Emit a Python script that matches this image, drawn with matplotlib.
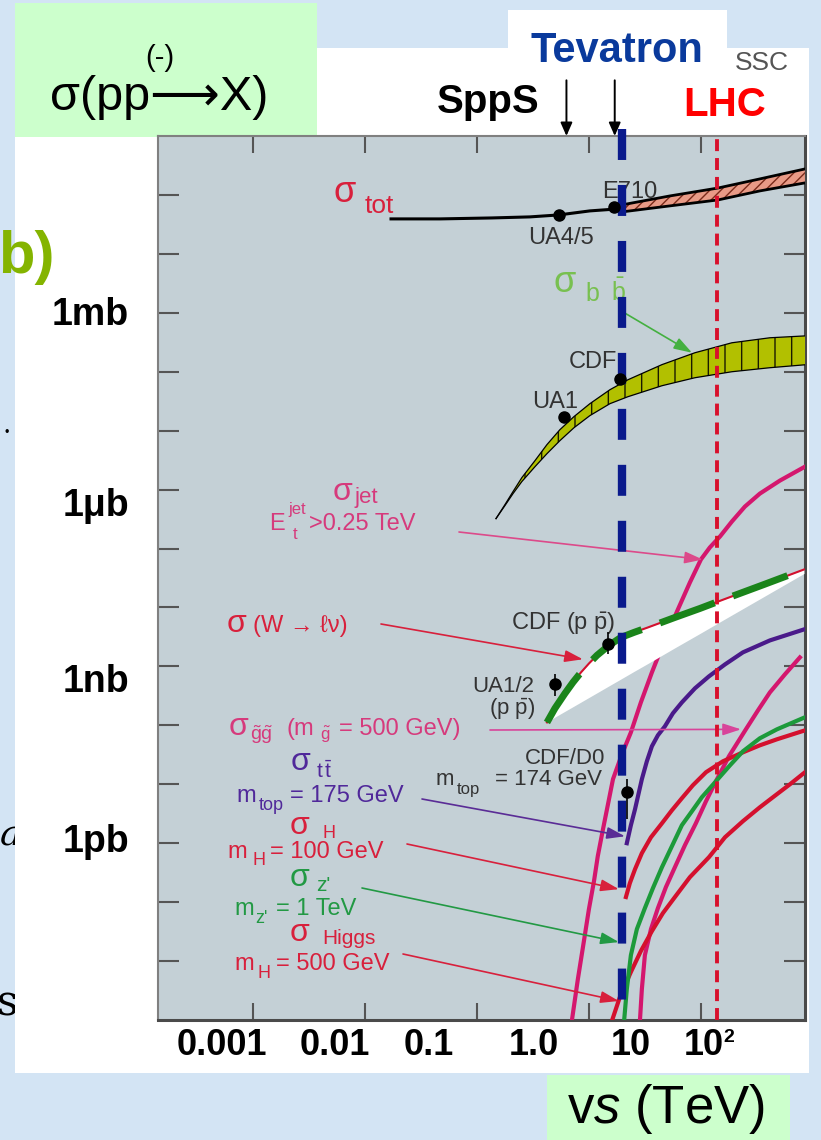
import matplotlib.pyplot as plt
from matplotlib.patches import Rectangle

plt.rcParams["font.family"] = ["Liberation Sans", "DejaVu Sans"]
plt.rcParams["mathtext.fontset"] = "custom"
plt.rcParams["mathtext.rm"] = "Liberation Sans"
plt.rcParams["mathtext.it"] = "Liberation Sans:italic"
plt.rcParams["mathtext.bf"] = "Liberation Sans:bold"
plt.rcParams["lines.scale_dashes"] = False
plt.rcParams["hatch.linewidth"] = 1.0

W, H = 821, 1140

# collider energies, sqrt(s) in TeV
spps, tev_run1, tevatron, lhc = 0.63, 1.7, 1.96, 14.0

# cross sections: sqrt(s) in TeV, sigma in nb
tot_x = [0.0171, 0.0468, 0.136, 0.297, 0.540, 1.02, 1.71, 1.97]
tot_y = [3.92e7, 3.92e7, 4.07e7, 4.24e7, 4.58e7, 5.36e7, 5.75e7, 5.9e7]
totband_x = [1.97, 5.29, 14.2, 33.6, 84.9]
totband_hi = [6.78e7, 9.62e7, 1.31e8, 1.87e8, 2.76e8]
totband_lo = [5.15e7, 6.52e7, 8.22e7, 1.17e8, 1.60e8]

bb_x = [0.148, 0.178, 0.210, 0.252, 0.330, 0.422, 0.551, 0.735, 1.02, 1.54,
        2.23, 4.49, 8.84, 18.9, 41.3, 88.3]
bb_hi = [322, 557, 925, 1600, 3100, 5800, 1.04e4, 1.73e4, 2.87e4, 4.95e4,
         7.31e4, 1.32e5, 2.10e5, 3.10e5, 3.77e5, 4.07e5]
bb_lo = [322, 536, 855, 1370, 2450, 4070, 6780, 1.12e4, 1.80e4, 2.87e4,
         3.77e4, 5.79e4, 7.91e4, 1.0e5, 1.17e5, 1.32e5]

jet_x = [0.70, 0.797, 0.902, 1.0, 1.11, 1.20, 1.33, 1.48, 1.64, 1.97, 2.37, 2.91,
         3.65, 4.77, 6.23, 7.97, 10.0, 12.0, 14.8, 18.9, 24.7, 33.6, 50.7, 84.9]
jet_y = [9e-7, 4.95e-6, 2.18e-5, 7.6e-5, 2.27e-4, 6.03e-4, 1.66e-3, 4.58e-3,
         1.22e-2, 3.22e-2, 7.6e-2, 0.245, 0.791, 2.87, 9.25, 26.5, 65.2, 104,
         160, 287, 515, 855, 1420, 2450]

w_x = [0.422, 0.497, 0.611, 0.720, 0.849, 1.0, 1.18, 1.51, 1.93, 2.52, 3.36,
       5.86, 9.80, 16.0, 36.5, 83.2]
w_hi = [0.112, 0.194, 0.348, 0.536, 0.791, 1.12, 1.54, 2.27, 3.10, 3.77, 4.58,
        6.77, 9.62, 13.7, 24.5, 44.1]
w_lo = [0.112, 0.138, 0.173, 0.207, 0.248, 0.297, 0.356, 0.467, 0.611, 0.820,
        1.12, 2.07, 3.62, 6.21, 15.3, 37.7]

gg_x = [2.85, 2.97, 3.16, 3.58, 4.13, 4.87, 5.86, 7.20, 9.02, 11.1, 13.6, 17.8,
        25.2, 32.3, 41.3, 56.2, 76.5]
gg_y = [9.25e-7, 3.35e-6, 1.26e-5, 3.48e-5, 7.91e-5, 1.80e-4, 3.92e-4, 9.25e-4,
        2.18e-3, 5.15e-3, 1.12e-2, 2.99e-2, 8.55e-2, 0.179, 0.362, 0.731, 1.42]

tt_x = [2.18, 2.37, 2.58, 2.97, 3.29, 3.65, 4.13, 4.77, 5.62, 6.76, 8.84, 11.8,
        16.4, 23.7, 41.3, 83.2]
tt_y = [1.0e-3, 2.02e-3, 3.77e-3, 1.22e-2, 2.45e-2, 4.41e-2, 6.78e-2, 9.62e-2,
        0.160, 0.245, 0.424, 0.678, 1.08, 1.73, 2.76, 4.24]

h100_x = [2.14, 2.32, 2.58, 2.97, 3.58, 4.49, 5.51, 6.76, 8.48, 11.1, 15.7, 23.7,
          33.6, 47.7, 84.9]
h100_y = [1.22e-4, 2.10e-4, 3.62e-4, 6.78e-4, 1.26e-3, 2.18e-3, 3.62e-3, 5.79e-3,
          9.62e-3, 1.60e-2, 2.45e-2, 3.48e-2, 4.58e-2, 5.79e-2, 8.22e-2]

zp_x = [2.05, 2.18, 2.37, 2.68, 3.16, 3.73, 4.49, 5.51, 6.76, 8.31, 10.2, 13.6,
        18.2, 23.7, 33.6, 47.7, 84.9]
zp_y = [8.55e-7, 3.35e-6, 1.26e-5, 3.48e-5, 7.91e-5, 1.73e-4, 3.92e-4, 8.9e-4,
        2.02e-3, 3.48e-3, 6.03e-3, 1.12e-2, 2.10e-2, 3.62e-2, 6.03e-2, 8.55e-2, 0.137]

h500_x = [1.57, 1.89, 2.37, 2.91, 3.65, 4.58, 5.86, 7.97, 11.8, 16.4, 23.7, 33.6,
          47.7, 62.4, 84.9]
h500_y = [8.55e-7, 2.45e-6, 6.52e-6, 1.48e-5, 3.22e-5, 6.52e-5, 1.22e-4, 2.65e-4,
          5.79e-4, 1.26e-3, 2.36e-3, 4.07e-3, 6.78e-3, 1.0e-2, 1.60e-2]

# measurements (UA4/5, E710, UA1, CDF, UA1/2 W, CDF W, CDF/D0 top)
pt_x = [0.54, 1.67, 0.60, 1.89, 0.50, 1.48, 2.18]
pt_y = [4.6e7, 6.3e7, 1.73e4, 7.6e4, 0.50, 2.36, 7.3e-3]
err_x = [0.50, 1.48, 2.18]
err_lo = [0.31, 1.6, 2.55e-3]
err_hi = [0.73, 3.77, 1.22e-2]

x_ticks = [1e-3, 1e-2, 1e-1, 1, 10]
y_ticks = [1e-5, 1e-4, 1e-3, 1e-2, 1e-1, 1, 10, 1e2, 1e3, 1e4, 1e5, 1e6, 1e7, 1e8]
x_labels = ["0.001", "0.01", "0.1", "1.0", "10", "10"]
y_labels = ["1mb", "1\u03bcb", "1nb", "1pb"]


def fx(x):
    return x / W


def fy(y):
    return 1 - y / H


fig = plt.figure(figsize=(W / 100, H / 100), dpi=100)
fig.patch.set_facecolor("#d3e4f4")


def box(x0, y0, x1, y1, color, z=1):
    fig.add_artist(Rectangle((fx(x0), fy(y1)), (x1 - x0) / W, (y1 - y0) / H,
                             transform=fig.transFigure, facecolor=color,
                             edgecolor="none", zorder=z))


# slide fragments behind the panel
fig.text(fx(-3), fy(1015), "si", fontsize=30, family="DejaVu Serif", zorder=0.5)
fig.text(fx(0), fy(845), "a", fontsize=26, family="DejaVu Serif", style="italic", zorder=0.5)
fig.text(fx(7), fy(436), "\u2022", fontsize=9, ha="center", zorder=0.5)

box(15, 48, 809, 1073, "white")
box(508, 10, 727, 48, "white")
box(15, 3, 317, 137, "#ccffcc", z=1.5)
box(547, 1075, 790, 1140, "#ccffcc", z=1.5)

ax = fig.add_axes([fx(158), fy(1020), 647 / W, 884 / H])
ax.set_zorder(2)
ax.set_facecolor("#c4d0d6")
ax.set_xscale("log")
ax.set_yscale("log")
ax.set_xlim(1.42e-4, 85)
ax.set_ylim(1e-6, 1e9)
ax.set_xticks(x_ticks)
ax.set_yticks(y_ticks)
ax.minorticks_off()
ax.tick_params(axis="x", direction="in", length=12, width=1.5, color="#555555",
               top=True, bottom=True, labelbottom=False)
ax.tick_params(axis="y", direction="in", length=15, width=1.5, color="#555555",
               left=True, right=True, labelleft=False)
for side in ["bottom", "right"]:
    ax.spines[side].set_linewidth(2.2)
    ax.spines[side].set_color("#4a4a4a")
for side in ["top", "left"]:
    ax.spines[side].set_linewidth(1.5)
    ax.spines[side].set_color("#808080")

# total cross section
ax.plot(tot_x, tot_y, color="black", lw=2.2, zorder=3)
ax.fill_between(totband_x, totband_lo, totband_hi, facecolor="#e89a86",
                edgecolor="#7a2a1a", hatch="///", lw=0, zorder=3)
ax.plot(totband_x, totband_hi, color="black", lw=2, zorder=3)
ax.plot(totband_x, totband_lo, color="black", lw=2, zorder=3)

# b bbar band
ax.fill_between(bb_x, bb_lo, bb_hi, facecolor="#b2c000", edgecolor="#1a1a00",
                hatch="|", lw=0, zorder=3)
ax.plot(bb_x, bb_hi, color="black", lw=0.9, zorder=3)
ax.plot(bb_x, bb_lo, color="black", lw=0.9, zorder=3)

# curves
ax.plot(jet_x, jet_y, color="#d4176e", lw=3, zorder=3)
ax.plot(gg_x, gg_y, color="#d4176e", lw=3, zorder=3)
ax.plot(tt_x, tt_y, color="#4a1a8a", lw=3, zorder=3)
ax.plot(h100_x, h100_y, color="#d4102e", lw=3, zorder=3)
ax.plot(h500_x, h500_y, color="#d4102e", lw=3, zorder=3)
ax.plot(zp_x, zp_y, color="#1c9a3a", lw=3, zorder=3)

# W band
ax.fill_between(w_x, w_lo, w_hi, color="white", lw=0, zorder=4)
ax.plot(w_x, w_hi, color="#d4102e", lw=1.5, zorder=5)
ax.plot(w_x, w_hi, color="#1a841a", lw=5, ls=(0, (42, 14)), zorder=5)

# collider lines
ax.plot([tevatron, tevatron], [1.008, 0], transform=ax.get_xaxis_transform(),
        color="#0a1a8c", lw=6, ls=(0, (22.3, 18)), clip_on=False, zorder=7)
ax.axvline(lhc, color="#d8102c", lw=2.8, ls=(0, (8.6, 5)), zorder=7)

# data points
ax.vlines(err_x, err_lo, err_hi, color="black", lw=1.2, zorder=8)
ax.plot(pt_x, pt_y, "o", color="black", ms=8, zorder=8)

# arrows at the top
for xa in [spps, tev_run1]:
    ax.annotate("", xy=(xa, 1.0), xycoords=("data", "axes fraction"),
                xytext=(xa, 1.063), textcoords=("data", "axes fraction"),
                arrowprops=dict(arrowstyle="-|>,head_length=0.5,head_width=0.22",
                                color="black", lw=1.4, mutation_scale=16,
                                shrinkA=0, shrinkB=0),
                annotation_clip=False)


def label(x, y, s, size=17, color="#333333", ha="left", **kw):
    ax.text(fx(x), fy(y), s, transform=fig.transFigure, fontsize=size,
            color=color, ha=ha, va="baseline", zorder=6, **kw)


def arrow(xy, tail, color):
    ax.annotate("", xy=xy, xycoords="data",
                xytext=(fx(tail[0]), fy(tail[1])), textcoords="figure fraction",
                arrowprops=dict(arrowstyle="-|>,head_length=0.55,head_width=0.18",
                                color=color, lw=1.2, mutation_scale=20,
                                shrinkA=0, shrinkB=0), zorder=6)


red, pink, purple, green = "#d8203c", "#d63a7c", "#50289a", "#229944"

label(333, 202, "\u03c3", 26, red)
label(365, 213, "tot", 19, red)
label(630, 198, "E710", ha="center")
label(561, 244, "UA4/5", ha="center")

label(553, 292, "\u03c3", 26, "#78c050")
label(585, 301, "b", 18, "#78c050")
label(611, 301, r"$\bar{\mathrm{b}}$", 18, "#78c050")
arrow((8.33, 2.1e5), (623, 312), "#44b040")
label(593, 368, "CDF", ha="center")
label(555, 408, "UA1", ha="center")

label(333, 500, "\u03c3", 23, pink)
label(354, 503, "jet", 16, pink)
label(269, 530, "E", 17, pink)
label(288, 514, "jet", 12, pink)
label(293, 539, "t", 12, pink)
label(309, 530, ">0.25 TeV", 17, pink)
arrow((10.4, 65), (459, 532), "#dc4a8a")

label(227, 632, "\u03c3", 23, red)
label(253, 632, "(W \u2192 \u2113\u03bd)", 17, red)
arrow((0.884, 1.32), (381, 624), red)
label(563, 630, r"CDF (p $\bar{\mathrm{p}}$)", ha="center")
label(503, 692, "UA1/2", 16, ha="center")
label(512, 715, r"(p $\bar{\mathrm{p}}$)", 16, ha="center")

label(229, 735, "\u03c3", 23, pink)
label(250, 740, r"$\tilde{\mathrm{g}}\tilde{\mathrm{g}}$", 14, pink)
label(286, 735, "(m", 17, pink)
label(320, 740, r"$\tilde{\mathrm{g}}$", 12, pink)
label(339, 735, "= 500 GeV)", 17, pink)
arrow((22.8, 0.0855), (490, 730), "#d8449a")

label(565, 764, "CDF/D0", 16, ha="center")
label(436, 785, "m", 16)
label(457, 794, "top", 12)
label(495, 785, "= 174 GeV", 16)

label(291, 770, "\u03c3", 23, purple)
label(316, 778, r"$\mathrm{t}\,\bar{\mathrm{t}}$", 15, purple)
label(236, 802, "m", 17, purple)
label(259, 810, "top", 13, purple)
label(290, 802, "= 175 GeV", 17, purple)
arrow((2.1, 1.31e-3), (422, 799), "#5a2c96")

label(290, 834, "\u03c3", 23, red)
label(322, 838, "H", 13, red)
label(227, 858, "m", 17, red)
label(252, 865, "H", 13, red)
label(270, 858, "= 100 GeV", 17, red)
arrow((1.85, 1.66e-4), (407, 844), red)

label(290, 886, "\u03c3", 23, green)
label(316, 891, "z'", 15, green)
label(234, 915, "m", 17, green)
label(255, 923, "z'", 13, green)
label(276, 915, "= 1 TeV", 17, green)
arrow((1.85, 2.1e-5), (362, 888), green)

label(290, 941, "\u03c3", 23, red)
label(322, 944, "Higgs", 15, red)
label(234, 970, "m", 17, red)
label(257, 978, "H", 13, red)
label(276, 970, "= 500 GeV", 17, red)
arrow((1.85, 2.1e-6), (403, 954), red)

# slide overlay texts
fig.text(fx(159), fy(110), "\u03c3(pp\u27f6X)", fontsize=35, ha="center")
fig.text(fx(160), fy(66), "(-)", fontsize=21, ha="center")
fig.text(fx(-2), fy(273), "b)", fontsize=43, weight="bold", color="#84b400")
fig.text(fx(617), fy(62), "Tevatron", fontsize=30, weight="bold", color="#0a3a9c", ha="center")
fig.text(fx(488), fy(113), "SppS", fontsize=29, weight="bold", ha="center")
fig.text(fx(725), fy(116), "LHC", fontsize=29, weight="bold", color="#ff0000", ha="center")
fig.text(fx(762), fy(70), "SSC", fontsize=19, color="#555555", ha="center")

for s, y in zip(y_labels, [325, 516, 692, 852]):
    fig.text(fx(129), fy(y), s, fontsize=27, weight="bold", ha="right")

for s, x in zip(x_labels, [222, 335, 429, 534, 631, 704]):
    fig.text(fx(x), fy(1055), s, fontsize=26, weight="bold", ha="center")
fig.text(fx(723), fy(1042), "2", fontsize=14, weight="bold")

fig.text(fx(567), fy(1123), r"v$\mathit{s}$ (TeV)", fontsize=38)

fig.savefig("out.png", dpi=100, facecolor=fig.get_facecolor())
